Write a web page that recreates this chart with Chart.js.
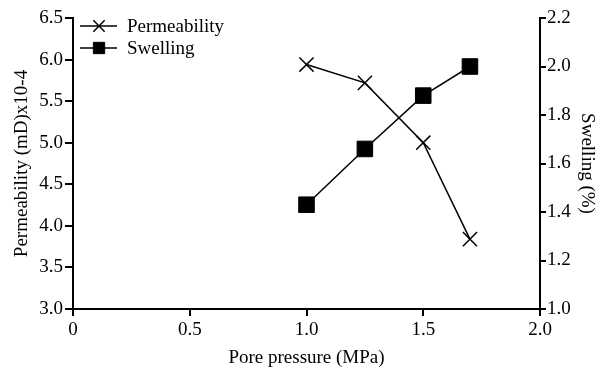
<!DOCTYPE html>
<html>
<head>
<meta charset="utf-8">
<script src="https://cdn.jsdelivr.net/npm/chart.js@4/dist/chart.umd.min.js"></script>
<style>
  html, body { margin: 0; padding: 0; background: #fff; }
  #wrap { width: 602px; height: 374px; }
</style>
</head>
<body>
<div id="wrap"><canvas id="chart" width="602" height="374"></canvas></div>
<script>
// Data
const porePressure = [1.0, 1.25, 1.5, 1.7];
const permeability = [5.94, 5.72, 5.0, 3.84];
const swelling = [1.43, 1.66, 1.88, 2.0];
const xTickLabels = ['0', '0.5', '1.0', '1.5', '2.0'];

const FONT = "'Liberation Serif', 'Times New Roman', serif";

// Legend drawn like the original: short line with the marker on it
const lineLegend = {
  id: 'lineLegend',
  afterDraw(chart) {
    const ctx = chart.ctx;
    ctx.save();
    chart.data.datasets.forEach((ds, i) => {
      const y = 26 + i * 22;
      ctx.strokeStyle = ds.borderColor;
      ctx.lineWidth = ds.borderWidth;
      ctx.beginPath();
      ctx.moveTo(80, y);
      ctx.lineTo(117, y);
      ctx.stroke();
      ctx.fillStyle = ds.pointBackgroundColor;
      ctx.strokeStyle = ds.pointBorderColor;
      ctx.lineWidth = ds.pointBorderWidth;
      Chart.helpers.drawPoint(ctx, {
        pointStyle: ds.pointStyle,
        radius: ds.legendRadius,
        rotation: 0,
        borderWidth: ds.pointBorderWidth
      }, 99, y);
      ctx.fillStyle = '#000';
      ctx.font = '19px ' + FONT;
      ctx.textBaseline = 'middle';
      ctx.textAlign = 'left';
      ctx.fillText(ds.label, 127, y + 1);
    });
    ctx.restore();
  }
};

function toPts(ys) {
  return porePressure.map((x, i) => ({ x: x, y: ys[i] }));
}

const ctx = document.getElementById('chart').getContext('2d');
const chart = new Chart(ctx, {
  type: 'line',
  data: {
    datasets: [{
      label: 'Permeability',
      data: toPts(permeability),
      yAxisID: 'y',
      borderColor: '#000',
      borderWidth: 1.5,
      pointStyle: 'crossRot',
      pointRadius: 10,
      legendRadius: 8,
      pointBorderColor: '#000',
      pointBackgroundColor: '#000',
      pointBorderWidth: 1.5,
      tension: 0,
      fill: false
    }, {
      label: 'Swelling',
      data: toPts(swelling),
      yAxisID: 'y1',
      borderColor: '#000',
      borderWidth: 1.5,
      pointStyle: 'rect',
      pointRadius: 11,
      legendRadius: 8,
      pointBorderColor: '#000',
      pointBackgroundColor: '#000',
      pointBorderWidth: 1,
      tension: 0,
      fill: false
    }]
  },
  options: {
    responsive: false,
    animation: false,
    layout: { autoPadding: false, padding: { top: 18, left: 0, right: 0, bottom: 0 } },
    plugins: { legend: { display: false }, tooltip: { enabled: false } },
    scales: {
      x: {
        type: 'linear',
        min: 0, max: 2,
        afterFit(s) { s.height = 65; },
        ticks: {
          stepSize: 0.5,
          color: '#000',
          padding: 3,
          font: { family: FONT, size: 19 },
          callback: (v, i) => xTickLabels[i]
        },
        grid: { drawOnChartArea: false, drawTicks: true, tickLength: 7, color: '#000', lineWidth: 2 },
        border: { display: true, color: '#000', width: 2 },
        title: {
          display: true, text: 'Pore pressure (MPa)', color: '#000',
          font: { family: FONT, size: 19 }, padding: { top: 0, bottom: 5 }
        }
      },
      y: {
        position: 'left',
        min: 3.0, max: 6.5,
        afterFit(s) { s.width = 73; },
        ticks: {
          stepSize: 0.5, color: '#000', padding: 2,
          font: { family: FONT, size: 19 },
          callback: v => v.toFixed(1)
        },
        grid: { drawOnChartArea: false, drawTicks: true, tickLength: 8, color: '#000', lineWidth: 2 },
        border: { display: true, color: '#000', width: 2 },
        title: {
          display: true, text: 'Permeability (mD)x10-4', color: '#000',
          font: { family: FONT, size: 19 }, padding: { top: 11, bottom: 0 }
        }
      },
      y1: {
        position: 'right',
        min: 1.0, max: 2.2,
        afterFit(s) { s.width = 62; },
        ticks: {
          stepSize: 0.2, color: '#000', padding: 1,
          font: { family: FONT, size: 19 },
          callback: v => v.toFixed(1)
        },
        grid: { drawOnChartArea: false, drawTicks: true, tickLength: 6, color: '#000', lineWidth: 2 },
        border: { display: true, color: '#000', width: 2 },
        title: {
          display: true, text: 'Swelling (%)', color: '#000',
          font: { family: FONT, size: 19 }, padding: { top: 4, bottom: 0 }
        }
      }
    }
  },
  plugins: [lineLegend]
});
</script>
</body>
</html>
